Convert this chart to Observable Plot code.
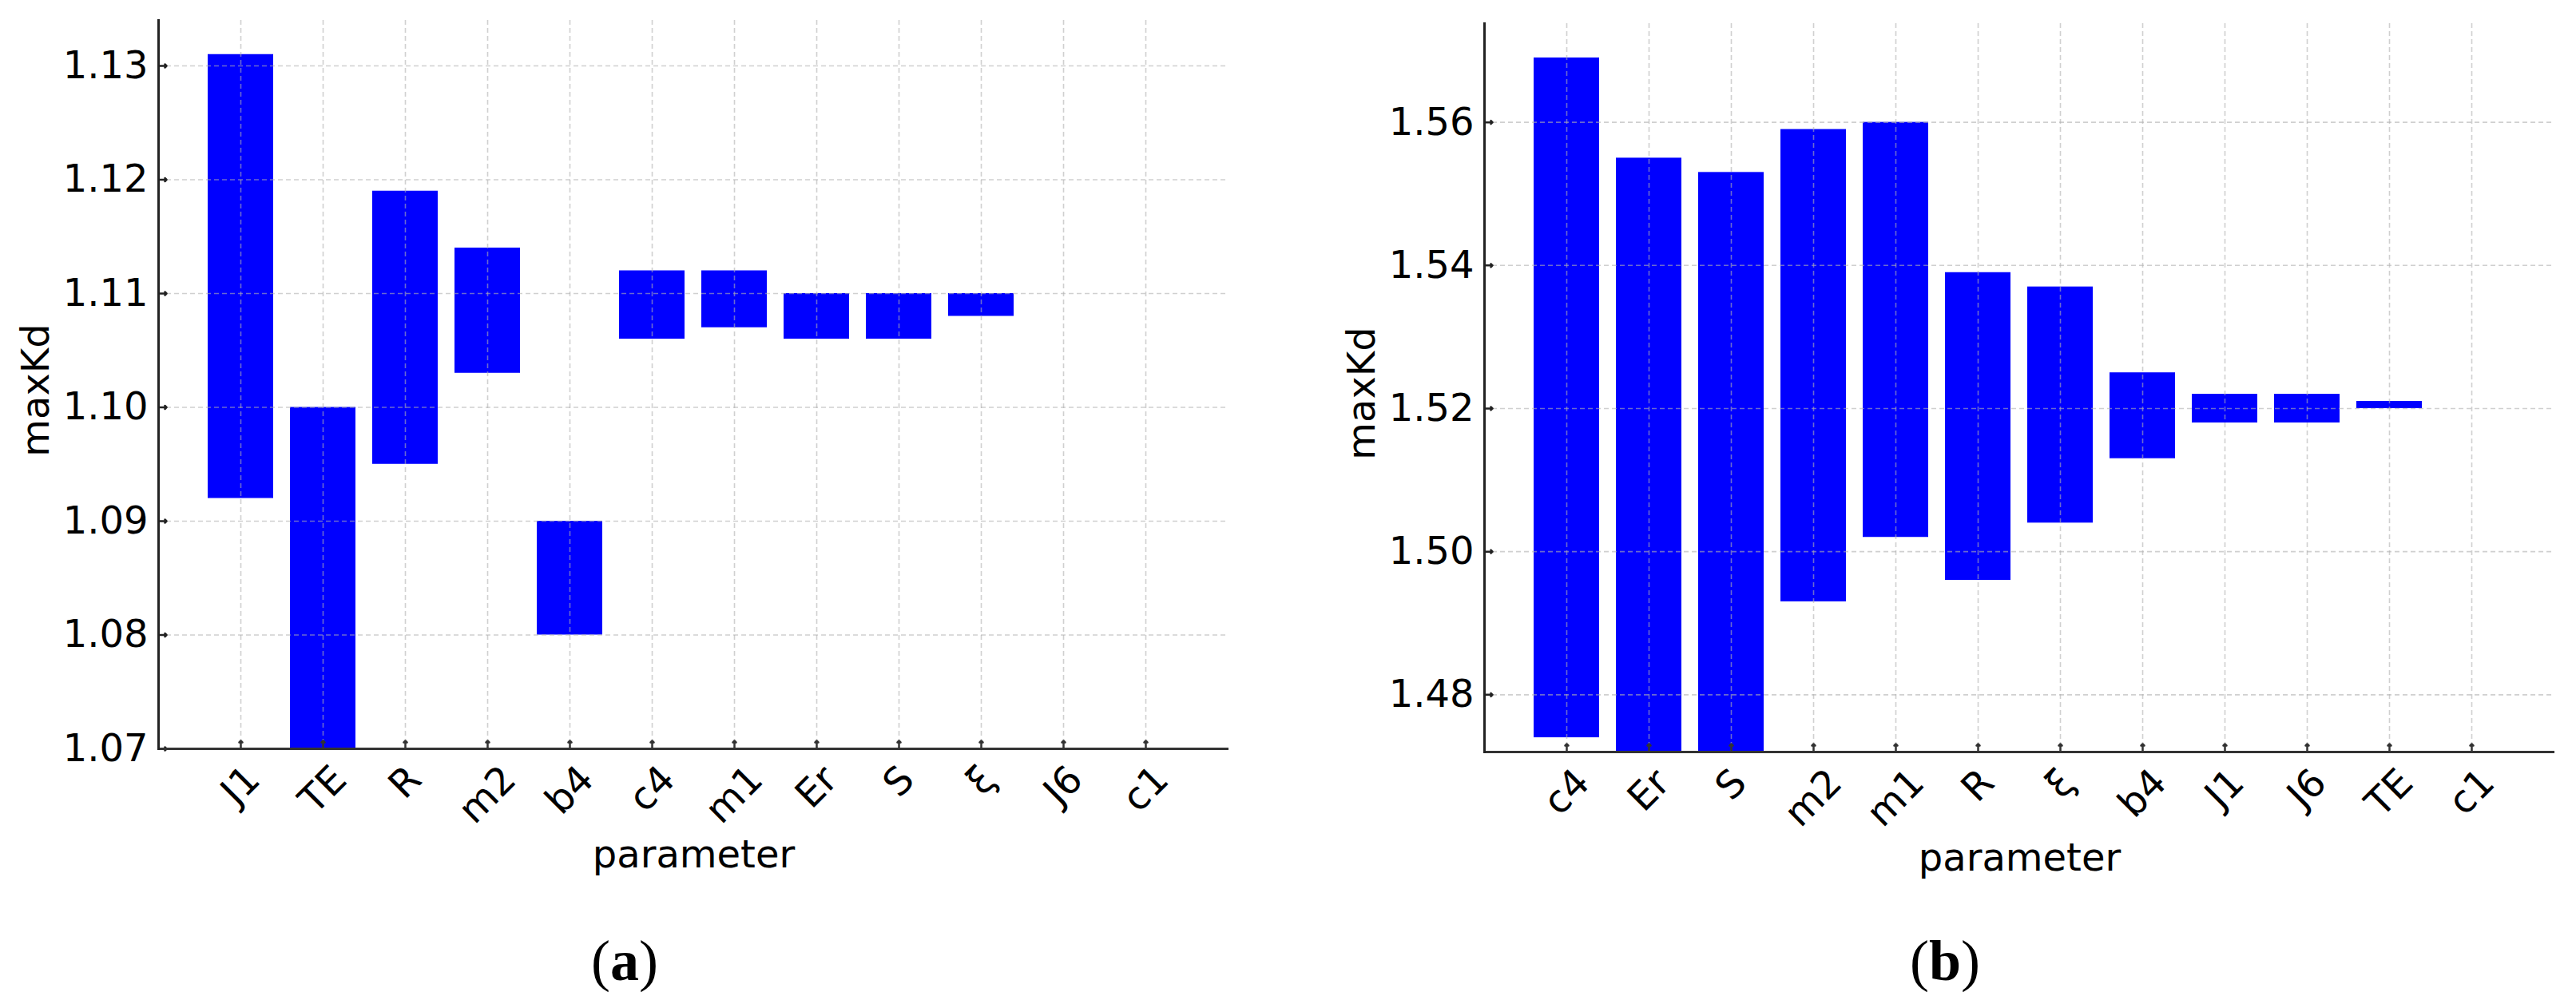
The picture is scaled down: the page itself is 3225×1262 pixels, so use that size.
<!DOCTYPE html>
<html><head><meta charset="utf-8">
<script src="https://cdn.jsdelivr.net/npm/d3@7"></script>
<script src="https://cdn.jsdelivr.net/npm/@observablehq/plot@0.6"></script>
<style>
html,body{margin:0;padding:0;background:#fff;}
#wrap{position:relative;width:3225px;height:1262px;overflow:hidden;font-family:"DejaVu Sans";}
.panel{position:absolute;top:0;}
.cap{position:absolute;font-family:"Liberation Serif","Times New Roman",serif;font-size:72px;line-height:1;transform:translate(-50%,-50%);color:#000;white-space:nowrap;}
</style></head><body>
<div id="wrap"></div>
<script>
// Panel (a)
const catsA = ["J1","TE","R","m2","b4","c4","m1","Er","S","ξ","J6","c1"];
const lowA  = [1.092,1.070,1.095,1.103,1.080,1.106,1.107,1.106,1.106,1.108,null,null];
const highA = [1.131,1.100,1.119,1.114,1.090,1.112,1.112,1.110,1.110,1.110,null,null];
const ticksA = [1.07,1.08,1.09,1.10,1.11,1.12,1.13];
const domainA = [1.07,1.134];

// Panel (b)
const catsB = ["c4","Er","S","m2","m1","R","ξ","b4","J1","J6","TE","c1"];
const lowB  = [1.474,1.465,1.465,1.493,1.502,1.496,1.504,1.513,1.518,1.518,1.520,null];
const highB = [1.569,1.555,1.553,1.559,1.560,1.539,1.537,1.525,1.522,1.522,1.521,null];
const ticksB = [1.48,1.50,1.52,1.54,1.56];
const domainB = [1.472,1.5738];

const xLabel = "parameter";
const yLabel = "maxKd";

function panel({cats, low, high, ticks, domain, width, height, margins}) {
  const data = cats.map((p, i) => ({p, lo: low[i], hi: high[i]}));
  const font = 48;
  const ctx = document.createElement("canvas").getContext("2d");
  ctx.font = `${font}px "DejaVu Sans"`;
  const labelMarks = cats.map(c => {
    const L = ctx.measureText(c).width;
    const off = 18 + (L + 0.73 * font) / (2 * Math.SQRT2);
    return Plot.text([c], {x: d => d, frameAnchor: "bottom", dy: off, rotate: -45,
      textAnchor: "middle", lineAnchor: "middle", fontSize: font, fill: "#000"});
  });
  const grid = {stroke: "#b0b0b0", strokeOpacity: 0.6, strokeWidth: 1.6, strokeDasharray: "6,4"};
  return Plot.plot({
    width, height, ...margins,
    style: {fontFamily: '"DejaVu Sans", sans-serif', background: "transparent", overflow: "visible", color: "#000"},
    x: {type: "band", domain: cats, paddingInner: 0.2, paddingOuter: 0.6, axis: null},
    y: {domain, axis: null},
    marks: [
      Plot.barY(data, {x: "p", y1: "lo", y2: "hi", fill: "#0000ff", clip: true}),
      Plot.gridX(cats, grid),
      Plot.gridY(ticks, grid),
      Plot.vector(ticks, {y: d => d, frameAnchor: "left", rotate: 90, length: 10, anchor: "start", stroke: "#222", strokeWidth: 2.5}),
      Plot.vector(cats, {x: d => d, frameAnchor: "bottom", rotate: 0, length: 10, anchor: "start", stroke: "#333", strokeWidth: 2.5}),
      Plot.ruleY([domain[0]], {stroke: "#333", strokeWidth: 3}),
      Plot.frame({anchor: "left", stroke: "#222", strokeWidth: 3}),
      Plot.axisY({ticks, tickSize: 0, tickPadding: 13, tickFormat: d3.format(".2f"), fontSize: font, label: null, fill: "#000"}),
      ...labelMarks,
      Plot.text([yLabel], {frameAnchor: "left", dx: -153, dy: 7, rotate: -90, fontSize: font, textAnchor: "middle", lineAnchor: "middle", fill: "#000"}),
      Plot.text([xLabel], {frameAnchor: "bottom", dy: 133, fontSize: font, textAnchor: "middle", lineAnchor: "middle", fill: "#000"})
    ]
  });
}

const wrap = document.getElementById("wrap");

const a = panel({cats: catsA, low: lowA, high: highA, ticks: ticksA, domain: domainA,
  width: 1612, height: 1262, margins: {marginTop: 25, marginLeft: 198, marginRight: 74, marginBottom: 325}});
a.classList.add("panel"); a.style.left = "0px";
wrap.appendChild(a);

const b = panel({cats: catsB, low: lowB, high: highB, ticks: ticksB, domain: domainB,
  width: 1613, height: 1262, margins: {marginTop: 29, marginLeft: 246, marginRight: 27, marginBottom: 321}});
b.classList.add("panel"); b.style.left = "1612px";
wrap.appendChild(b);

function caption(letter, x, y) {
  const d = document.createElement("div");
  d.className = "cap";
  d.style.left = x + "px"; d.style.top = y + "px";
  d.innerHTML = `(<span style="font-weight:bold">${letter}</span>)`;
  wrap.appendChild(d);
}
caption("a", 782, 1203);
caption("b", 2435, 1203);
</script>
</body></html>
